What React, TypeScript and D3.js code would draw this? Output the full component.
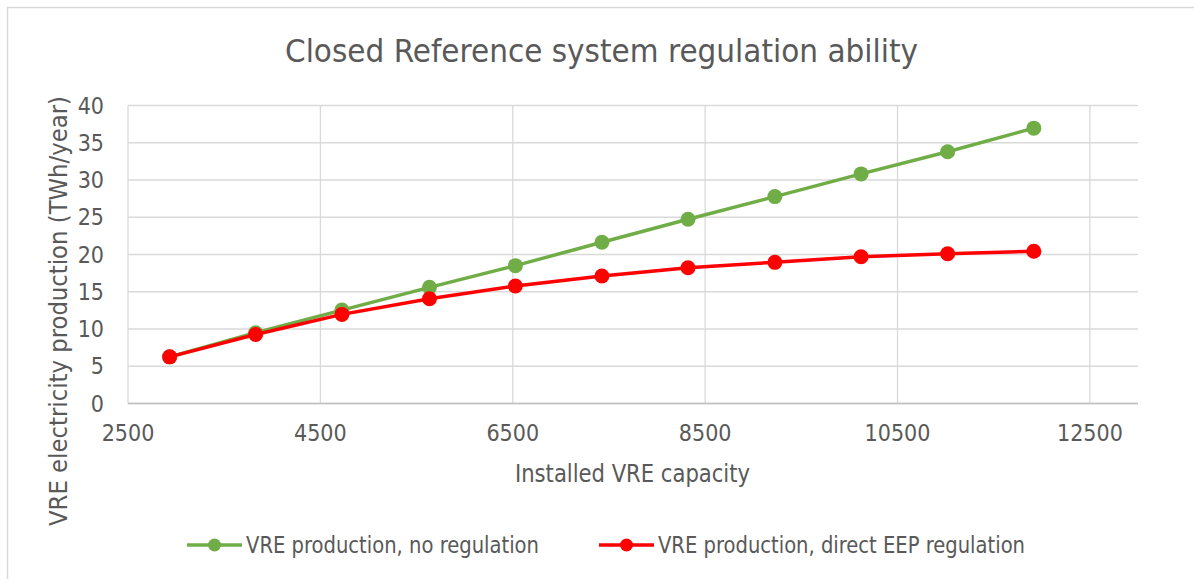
import React from "react";
import * as d3 from "d3";

const capacity = [2933, 3827, 4724, 5634, 6527, 7427, 8322, 9225, 10121, 11021, 11917];
const noRegulation = [6.26, 9.49, 12.54, 15.59, 18.5, 21.64, 24.73, 27.77, 30.82, 33.8, 36.96];
const eepRegulation = [6.26, 9.27, 11.96, 14.06, 15.77, 17.11, 18.23, 18.95, 19.7, 20.1, 20.43];
const xTicks = [2500, 4500, 6500, 8500, 10500, 12500];
const yTicks = [0, 5, 10, 15, 20, 25, 30, 35, 40];
const seriesNames = ["VRE production, no regulation", "VRE production, direct EEP regulation"];
const seriesColors = ["#70AD47", "#FF0000"];
const title = "Closed Reference system regulation ability";
const xTitle = "Installed VRE capacity";
const yTitle = "VRE electricity production (TWh/year)";

const W = 1194;
const H = 579;
const FONT = "'Liberation Sans Narrow', 'DejaVu Sans Condensed', 'Open Sans', sans-serif";
const TXT = "#595959";

export default function App() {
  const x = d3.scaleLinear().domain([2500, 13000]).range([128, 1138]);
  const y = d3.scaleLinear().domain([0, 40]).range([403.5, 105.5]);
  const series = [noRegulation, eepRegulation];
  const line = (vals: number[]) =>
    d3
      .line<number>()
      .x((_, i) => x(capacity[i]))
      .y((v) => y(v))(vals) as string;

  const legendX = [187, 599];
  const legendLen = [293, 367];

  return (
    <svg
      width={W}
      height={H}
      style={{ position: "absolute", left: 0, top: 0, background: "#fff" }}
      fontFamily={FONT}
    >
      <rect x={7.5} y={7.5} width={1300} height={700} fill="#fff" stroke="#D9D9D9" strokeWidth={1.5} />
      <text x={601.5} y={62} textAnchor="middle" fontSize={32} fill={TXT} textLength={633} lengthAdjust="spacingAndGlyphs">
        {title}
      </text>
      {/* grid */}
      {yTicks.map((t) => (
        <line key={"gy" + t} x1={x(2500)} x2={x(13000)} y1={y(t)} y2={y(t)} stroke="#D9D9D9" strokeWidth={1.3} />
      ))}
      {xTicks.map((t) => (
        <line key={"gx" + t} x1={x(t)} x2={x(t)} y1={y(0)} y2={y(40)} stroke="#D9D9D9" strokeWidth={1.3} />
      ))}
      <line x1={x(2500)} x2={x(13000)} y1={y(0)} y2={y(0)} stroke="#BFBFBF" strokeWidth={1.5} />
      {/* tick labels */}
      {yTicks.map((t) => (
        <text key={"ty" + t} x={x(2500) - 24} y={y(t)} dy="0.35em" textAnchor="end" fontSize={23} fill={TXT}>
          {t}
        </text>
      ))}
      {xTicks.map((t) => (
        <text key={"tx" + t} x={x(t)} y={441} textAnchor="middle" fontSize={23} fill={TXT}>
          {t}
        </text>
      ))}
      <text x={632.5} y={482} textAnchor="middle" fontSize={24} fill={TXT} textLength={235} lengthAdjust="spacingAndGlyphs">
        {xTitle}
      </text>
      <text
        transform={`translate(67, 311) rotate(-90)`}
        textAnchor="middle"
        fontSize={25}
        fill={TXT}
        textLength={430}
        lengthAdjust="spacingAndGlyphs"
      >
        {yTitle}
      </text>
      {/* series */}
      {series.map((vals, si) => (
        <g key={"s" + si}>
          <path d={line(vals)} fill="none" stroke={seriesColors[si]} strokeWidth={3.5} strokeLinejoin="round" />
          {vals.map((v, i) => (
            <circle key={i} cx={x(capacity[i])} cy={y(v)} r={7.5} fill={seriesColors[si]} />
          ))}
        </g>
      ))}
      {/* legend */}
      {seriesNames.map((n, si) => (
        <g key={"l" + si} transform={`translate(${legendX[si]}, 545)`}>
          <line x1={0} x2={55} y1={0} y2={0} stroke={seriesColors[si]} strokeWidth={3.5} />
          <circle cx={27.5} cy={0} r={6.5} fill={seriesColors[si]} />
          <text x={59} y={0} dy="0.35em" fontSize={23} fill={TXT} textLength={legendLen[si]} lengthAdjust="spacingAndGlyphs">
            {n}
          </text>
        </g>
      ))}
    </svg>
  );
}
